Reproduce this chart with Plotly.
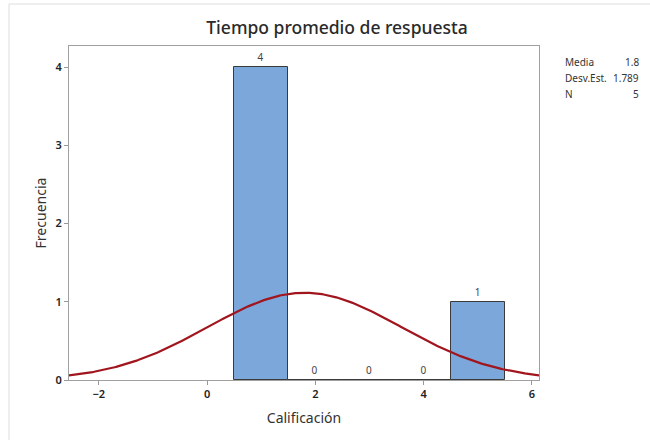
import numpy as np
import plotly.graph_objects as go

# Data
bin_centers = [1, 2, 3, 4, 5]
counts = [4, 0, 0, 0, 1]
bin_width = 1
media = 1.8
desv_est = 1.789
n_obs = 5
x_ticks = [-2, 0, 2, 4, 6]
y_ticks = [0, 1, 2, 3, 4]

FONT = "Noto Sans, Open Sans, sans-serif"

# Fitted normal curve (from Media / Desv.Est. / N)
xs = np.linspace(-2.55, 6.13, 300)
ys = n_obs * bin_width / (desv_est * np.sqrt(2 * np.pi)) * np.exp(-0.5 * ((xs - media) / desv_est) ** 2)

fig = go.Figure()
fig.add_trace(go.Bar(
    x=bin_centers, y=counts, width=bin_width,
    marker=dict(color="#7BA7DA", line=dict(color="#3A3A3A", width=1)),
    text=[str(c) for c in counts], textposition="outside",
    textfont=dict(size=10, color="#444", family=FONT),
    cliponaxis=False, hoverinfo="x+y",
))
fig.add_trace(go.Scatter(x=xs, y=ys, mode="lines",
                         line=dict(color="#A1161E", width=2.2), hoverinfo="skip"))

fig.update_layout(
    width=650, height=440,
    margin=dict(l=69, r=111, t=46, b=60),
    paper_bgcolor="white", plot_bgcolor="white",
    showlegend=False, bargap=0,
    font=dict(family=FONT, color="#333"),
    title=dict(text="Tiempo promedio de respuesta", x=337/650, xanchor="center",
               y=1-28/440, yanchor="middle",
               font=dict(size=17.5, color="#2a2a2a", family=FONT, weight=500)),
    uniformtext=dict(minsize=10, mode="show"),
)
fig.update_xaxes(range=[-2.55, 6.13], tickvals=x_ticks, ticks="outside", ticklen=4,
                 tickcolor="#999", showline=True, linecolor="#A0A0A0", linewidth=1,
                 mirror=True, showgrid=False, zeroline=False,
                 tickfont=dict(size=11, color="#222", weight=600),
                 title=dict(text="Calificación", font=dict(size=14, color="#333", weight=400), standoff=12))
fig.update_yaxes(range=[0, 4.27], tickvals=y_ticks, ticks="outside", ticklen=4,
                 tickcolor="#999", showline=True, linecolor="#A0A0A0", linewidth=1,
                 mirror=True, showgrid=False, zeroline=False,
                 tickfont=dict(size=11, color="#222", weight=600),
                 title=dict(text="Frecuencia", font=dict(size=14, color="#333", weight=400), standoff=5))

# Stats table
pw = 650 - 69 - 111
ph = 440 - 46 - 60
def px_x(px):
    return (px - 69) / pw
def px_y(py):
    return 1 - (py - 46) / ph
labels = ["Media", "Desv.Est.", "N"]
values = [f"{media}", f"{desv_est}", f"{n_obs}"]
for i, (lab, val) in enumerate(zip(labels, values)):
    yy = 62 + i * 16
    fig.add_annotation(xref="paper", yref="paper", x=px_x(563), y=px_y(yy), text=lab,
                       showarrow=False, xanchor="left", yanchor="middle",
                       font=dict(size=10, color="#333"))
    fig.add_annotation(xref="paper", yref="paper", x=px_x(641), y=px_y(yy), text=val,
                       showarrow=False, xanchor="right", yanchor="middle",
                       font=dict(size=10, color="#333"))

# light outer frame
fig.add_shape(type="line", xref="paper", yref="paper", x0=px_x(9), x1=px_x(650),
              y0=px_y(4), y1=px_y(4), line=dict(color="#DDDDDD", width=1))
fig.add_shape(type="line", xref="paper", yref="paper", x0=px_x(9), x1=px_x(9),
              y0=px_y(4), y1=px_y(440), line=dict(color="#DDDDDD", width=1))

fig.write_html("out.html", config={"displayModeBar": False},
               post_script="document.body.style.margin='0';")
